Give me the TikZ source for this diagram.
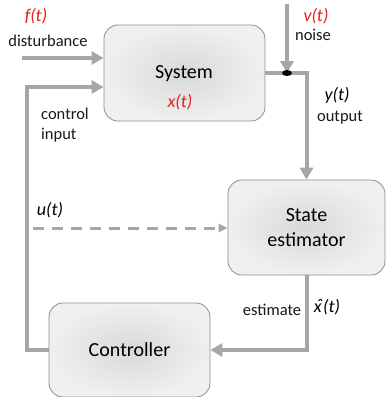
\documentclass[tikz,border=0pt]{standalone}
\usepackage{fontspec}
\setmainfont{Carlito}
\usetikzlibrary{arrows.meta,calc}
\definecolor{wire}{HTML}{A6A6A6}
\definecolor{boxedge}{HTML}{8F8F8F}
\definecolor{sigred}{HTML}{E5211F}
\newcommand{\hatx}{\ooalign{x\cr\kern0.12em\raisebox{0.15ex}{ˆ}\cr}}
\tikzset{
  block/.style={draw=boxedge, line width=0.8bp, rounded corners=14bp,
    inner color=black!15, outer color=black!6, align=center,
    font=\fontsize{20bp}{25bp}\selectfont},
  flow/.style={draw=wire, line width=4bp, line join=miter,
    -{Triangle[length=12bp,width=13bp]}},
  plain/.style={draw=wire, line width=4bp, line join=miter},
  hint/.style={draw=wire, line width=3bp, dash pattern=on 11bp off 8bp,
    -{Triangle[length=9bp,width=8bp]}},
  lbl/.style={font=\fontsize{16.5bp}{20bp}\selectfont, text=black!90, inner sep=0pt},
  sig/.style={font=\fontsize{18bp}{20bp}\selectfont\itshape, inner sep=0pt},
}
\begin{document}
\begin{tikzpicture}[x=1bp,y=-1bp]
\useasboundingbox (0,0) rectangle (387,397);
\fill[white] (0,0) rectangle (387,397);

% blocks
\node[block, minimum width=161bp, minimum height=96bp] (sys) at (184.5,73) {};
\node[font=\fontsize{20bp}{25bp}\selectfont] (systxt) at (184,74) {System};
\node[block, minimum width=157bp, minimum height=95bp] (est) at (306.5,227.5)
  {State\\estimator};
\node[block, minimum width=161bp, minimum height=94bp] (ctrl) at (129.5,350) {Controller};

% helper points
\coordinate (dist0) at (22,58);
\coordinate (loop) at (27,87);
\coordinate (noise0) at (287,4);
\coordinate (junc) at (287,73);
\coordinate (u0) at (33,228);

% connectors
\draw[flow] (dist0) -- (dist0 -| sys.west);
\draw[flow] (ctrl.west) -| (loop) -- (loop -| sys.west);
\draw[plain] (sys.east) -| ($(est.north)+(0,-10)$);
\draw[flow] (sys.east) -| (est.north);
\draw[flow] (noise0) -- (junc);
\fill[black] (junc) ellipse (5bp and 3bp);
\draw[hint] (u0) -- (u0 -| est.west);
\draw[flow] (est.south) |- (ctrl.east);

% labels
\node[sig, text=sigred] (ft) at (36,16) {f(t)};
\node[lbl] (dlab) at (48,41) {disturbance};
\node[sig, text=sigred] (vt) at (316,16) {v(t)};
\node[lbl] (nlab) at (313,35) {noise};
\node[sig, text=sigred] (xt) at (180,102) {x(t)};
\node[sig] (yt) at (337,95) {y(t)};
\node[lbl] (olab) at (340,118) {output};
\node[lbl, align=left, anchor=west] (clab) at (41,125) {control\\input};
\node[sig] (ut) at (50,210) {u(t)};
\node[lbl] (elab) at (272,310) {estimate};
\node[sig] (xh) at (327,307) {\hatx(t)};
\end{tikzpicture}
\end{document}
